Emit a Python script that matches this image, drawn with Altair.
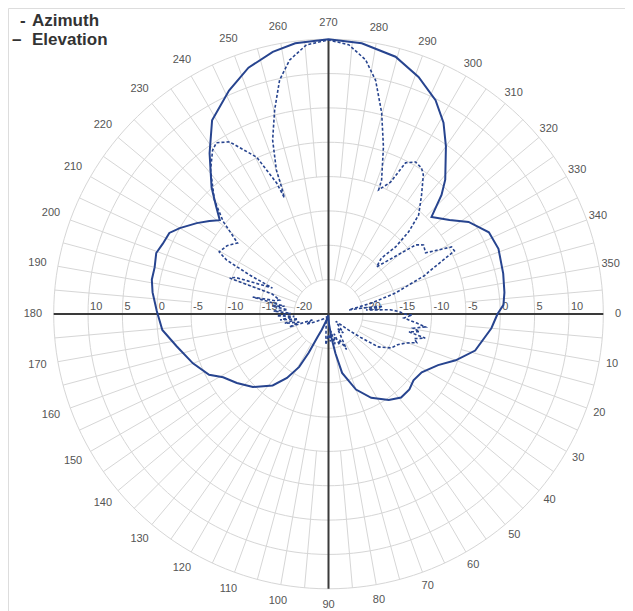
import numpy as np
import pandas as pd
import altair as alt

# ---------------- data (angle in deg, clockwise from east; gain in dB)
elev_angle = [0, 5, 14, 20, 25, 32, 38, 43, 49, 55, 63, 70, 77, 80, 83, 87, 92, 100, 108, 113,
              115.6, 117, 119, 123, 128, 136, 143, 149, 153, 160, 168, 174.5, 181, 187, 191, 195,
              199.5, 203, 207, 210, 214.6, 218, 220.8, 224, 227.3, 233.5, 239, 246, 252, 258,
              263, 270, 277, 284.6, 290.8, 296.6, 301, 305, 311, 313.5, 316.7, 322.2, 326.7,
              333, 339, 347, 353, 357, 360]
elev_db = [-0.4, -1.2, -3.0, -5.3, -7.4, -9.0, -9.3, -8.9, -8.9, -9.7, -11.3, -13.3, -16.2, -19.2,
           -21.6, -23.5, -24.5, -24.8, -24.0, -22.5, -21.3, -18.7, -16.2, -13.9, -11.8, -9.7, -8.3,
           -7.1, -5.5, -4.0, -2.4, -0.7, 0.0, 0.8, 1.2, 1.2, 1.6, 1.2, 1.0, 0.0, -1.7, -3.0, -4.1,
           -2.2, 0.1, 4.1, 7.9, 10.6, 12.7, 14.0, 14.7, 15.0, 14.7, 13.7, 11.9, 9.8, 7.5, 4.8, 0.9,
           -1.1, -4.4, -2.7, -0.6, 1.2, 1.5, 1.1, 0.8, 0.5, -0.4]

azim_angle = [0, 0.7, 3, 6, 7.6, 9.5, 11, 12.5, 14, 16,
              18, 20.6, 24, 28.4, 33.4, 36, 38.7, 45, 52, 58,
              63, 67, 70.5, 74, 78, 82, 86, 90, 95, 100,
              108, 120, 135, 148, 155, 160, 161.6, 164.6, 168, 171,
              173, 176, 178, 181, 183, 186, 188, 190, 192.6, 194,
              196, 199.5, 200, 201.5, 204.9, 206.3, 207.9, 209.6, 214, 218,
              221.3, 225, 230.7, 234.7, 236.8, 240.1, 245.4, 248.4, 249.2, 249.7,
              250.1, 252.2, 255.2, 258.2, 261.3, 265.3, 270, 274.3, 278.3, 281.4,
              284.8, 288.2, 291.6, 292.0, 295.2, 297.0, 299.8, 302.5, 304.3, 308,
              312.3, 314.3, 315, 313.4, 315.6, 321.6, 324.0, 327.8, 331.4, 333.4,
              337.2, 338.1, 342.6, 345.7, 348.7, 350, 352, 354, 356, 358,
              360]
azim_db = [-14.0, -12.8, -14.0, -12.0, -10.8, -12.5, -11.5, -13.0, -10.5, -12.0,
           -11.5, -13.0, -14.0, -14.6, -16.3, -19.1, -21.3, -23.5, -21.5, -22.5,
           -19.2, -21.0, -20.2, -22.0, -20.5, -22.5, -21.0, -22.0, -20.5, -23.0,
           -24.0, -24.5, -24.0, -23.0, -21.5, -22.5, -19.0, -20.6, -18.5, -20.5,
           -17.9, -20.0, -17.5, -19.5, -17.0, -19.0, -16.7, -18.5, -13.7, -17.0,
           -17.6, -16.3, -9.7, -10.5, -16.0, -12.2, -8.2, -6.7, -7.2, -8.2,
           -4.6, -1.5, 2.1, 4.2, 4.8, 3.9, 0.1, -4.5, -6.9, -5.3,
           -2.7, 1.6, 5.7, 9.8, 12.4, 14.3, 14.9, 14.3, 12.4, 9.7,
           5.3, 0.6, -4.0, -5.5, -3.8, -0.3, 0.5, 0.2, -0.5, -3.0,
           -5.5, -8.3, -11.2, -13.8, -15.2, -8.8, -7.9, -8.3, -4.6, -4.5,
           -9.2, -9.8, -14.8, -18.5, -22.0, -20.0, -17.0, -19.5, -16.0, -14.7,
           -14.0]

ring_db = [-20, -15, -10, -5, 0, 5, 10, 15]
radial_labels = [-20, -15, -10, -5, 0, 5, 10]
angle_ticks = list(range(0, 360, 10))
legend_dash = ["-", "–"]
legend_names = ["Azimuth", "Elevation"]

# ---------------- layout
CENTER_DB = -25.0
W, H = 617, 603
PX = 6.87
CX, CY = 320.5, 306.0
XDOM = [-CX / PX, (W - CX) / PX]
YDOM = [-(H - CY) / PX, CY / PX]
xs = alt.Scale(domain=XDOM, nice=False, zero=False)
ys = alt.Scale(domain=YDOM, nice=False, zero=False)
OUTER_R = ring_db[-1] - CENTER_DB

CURVE_COLOR = "#27448f"
GRID_COLOR = "#d6d6d6"
TEXT_COLOR = "#555555"
FONT = "Liberation Sans"


def to_xy(chart, r_field="r", x="px", y="py"):
    return chart.transform_calculate(
        **{x: f"datum.{r_field} * cos(datum.angle * PI / 180)",
           y: f"-datum.{r_field} * sin(datum.angle * PI / 180)"})


curves = pd.concat([
    pd.DataFrame({"series": "Elevation", "angle": elev_angle, "db": elev_db,
                  "idx": range(len(elev_angle))}),
    pd.DataFrame({"series": "Azimuth", "angle": azim_angle, "db": azim_db,
                  "idx": range(len(azim_angle))}),
])

ring_rows = []
for d in ring_db:
    for a in range(0, 361, 2):
        ring_rows.append({"ring": d, "angle": a, "db": d})
rings_df = pd.DataFrame(ring_rows)

spoke_rows = []
for a in range(0, 360, 10):
    spoke_rows.append({"angle": a, "r1": 5.0, "r2": OUTER_R})
for a in range(5, 360, 10):
    spoke_rows.append({"angle": a, "r1": 20.0, "r2": OUTER_R})
spokes_df = pd.DataFrame(spoke_rows)

axes_df = pd.DataFrame({"angle": [0, 90, 180, 270], "r1": 0.0, "r2": OUTER_R})

rad_rows = []
for d in radial_labels:
    rad_rows.append({"side": -1, "db": d, "label": str(d)})
    rad_rows.append({"side": 1, "db": d, "label": str(d)})
rad_df = pd.DataFrame(rad_rows)

ang_df = pd.DataFrame({"angle": angle_ticks, "label": [str(a) for a in angle_ticks]})

leg_df = pd.DataFrame({
    "text": [legend_dash[0], legend_names[0], legend_dash[1], legend_names[1]],
    "lx": [12, 24, 4, 24],
    "ly": [13, 13, 32, 32],
})

rings = to_xy(alt.Chart(rings_df).transform_calculate(r=f"datum.db - ({CENTER_DB})")).mark_line(
    color=GRID_COLOR, strokeWidth=1).encode(
    x=alt.X("px:Q", scale=xs, axis=None),
    y=alt.Y("py:Q", scale=ys, axis=None),
    detail="ring:N",
    order="angle:Q",
)

spokes = alt.Chart(spokes_df).transform_calculate(
    x1="datum.r1 * cos(datum.angle * PI / 180)",
    y1="-datum.r1 * sin(datum.angle * PI / 180)",
    x2="datum.r2 * cos(datum.angle * PI / 180)",
    y2="-datum.r2 * sin(datum.angle * PI / 180)",
).mark_rule(color=GRID_COLOR, strokeWidth=1).encode(
    x=alt.X("x1:Q", scale=xs, axis=None), y=alt.Y("y1:Q", scale=ys, axis=None),
    x2="x2:Q", y2="y2:Q")

axes_lines = alt.Chart(axes_df).transform_calculate(
    x1="datum.r1 * cos(datum.angle * PI / 180)",
    y1="-datum.r1 * sin(datum.angle * PI / 180)",
    x2="datum.r2 * cos(datum.angle * PI / 180)",
    y2="-datum.r2 * sin(datum.angle * PI / 180)",
).mark_rule(color="#3a3a3a", strokeWidth=2).encode(
    x=alt.X("x1:Q", scale=xs, axis=None), y=alt.Y("y1:Q", scale=ys, axis=None),
    x2="x2:Q", y2="y2:Q")

rad_text = alt.Chart(rad_df).transform_calculate(
    tx=f"datum.side * (datum.db - ({CENTER_DB}))", ty="0"
).mark_text(align="left", baseline="bottom", dx=2, dy=-2, fontSize=11, font=FONT,
            color=TEXT_COLOR).encode(
    x=alt.X("tx:Q", scale=xs, axis=None), y=alt.Y("ty:Q", scale=ys, axis=None), text="label:N")

# angle labels: centred on a circle just outside the outer ring, pulled in a little on the right
ang_text = alt.Chart(ang_df).transform_calculate(
    rl=f"(291 - 0.25 * length(datum.label) * 6.1 * cos(datum.angle * PI / 180)) / {PX}"
).transform_calculate(
    tx="datum.rl * cos(datum.angle * PI / 180)",
    ty="-datum.rl * sin(datum.angle * PI / 180)",
).mark_text(align="center", baseline="middle", fontSize=11, font=FONT, color=TEXT_COLOR).encode(
    x=alt.X("tx:Q", scale=xs, axis=None), y=alt.Y("ty:Q", scale=ys, axis=None), text="label:N")

curve_base = to_xy(alt.Chart(curves).transform_calculate(
    r=f"max(0, datum.db - ({CENTER_DB}))"))

solid = curve_base.transform_filter(alt.datum.series == "Elevation").mark_line(
    color=CURVE_COLOR, strokeWidth=2).encode(
    x=alt.X("px:Q", scale=xs, axis=None), y=alt.Y("py:Q", scale=ys, axis=None),
    order="idx:Q")

dashed = curve_base.transform_filter(alt.datum.series == "Azimuth").mark_line(
    color=CURVE_COLOR, strokeWidth=1.6, strokeDash=[3, 2]).encode(
    x=alt.X("px:Q", scale=xs, axis=None), y=alt.Y("py:Q", scale=ys, axis=None),
    order="idx:Q")

legend = alt.Chart(leg_df).mark_text(
    align="left", baseline="middle", fontSize=17, fontWeight="bold", font=FONT,
    color="#333333").encode(
    x=alt.X("lx:Q", scale=None), y=alt.Y("ly:Q", scale=None), text="text:N")

chart = alt.layer(rings, spokes, axes_lines, rad_text, ang_text, solid, dashed, legend).properties(
    width=W, height=H, padding=0, autosize=alt.AutoSizeParams(type="none"),
).configure_view(stroke=None).configure(background="white")

chart.save("out.html", embed_options={"renderer": "svg", "actions": False})
